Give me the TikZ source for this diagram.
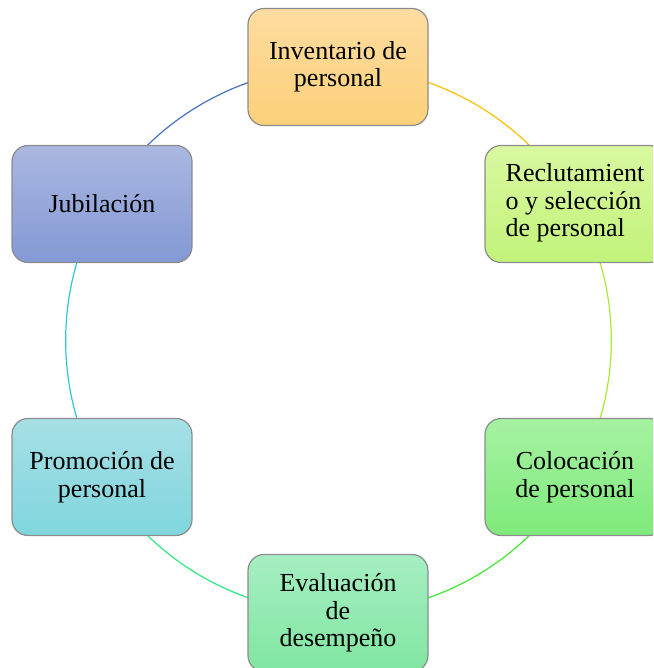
\documentclass[tikz,border=0pt]{standalone}
\usepackage{fontspec}
\setmainfont{Liberation Serif}
\usetikzlibrary{backgrounds}
\definecolor{orT}{HTML}{FEDCA0}
\definecolor{orB}{HTML}{FCD17A}
\definecolor{reT}{HTML}{D9F8A0}
\definecolor{reB}{HTML}{C2F37A}
\definecolor{coT}{HTML}{A6F2A2}
\definecolor{coB}{HTML}{7EEA7A}
\definecolor{evT}{HTML}{A6EEC2}
\definecolor{evB}{HTML}{80E6A0}
\definecolor{prT}{HTML}{A7DFE6}
\definecolor{prB}{HTML}{80D6DD}
\definecolor{juT}{HTML}{A9B7E0}
\definecolor{juB}{HTML}{8499D5}
\definecolor{boxline}{HTML}{8C8C8C}
\definecolor{arcA}{HTML}{FFC000}
\definecolor{arcB}{HTML}{A6EC30}
\definecolor{arcC}{HTML}{40E832}
\definecolor{arcD}{HTML}{30E880}
\definecolor{arcE}{HTML}{30C8D8}
\definecolor{arcF}{HTML}{4472C4}
\begin{document}
\begin{tikzpicture}[x=1pt,y=1pt,
  box/.style={draw=boxline, line width=1.2pt, rounded corners=16pt,
    minimum width=180pt, minimum height=117pt, inner sep=0pt,
    align=center, font=\fontsize{26}{27.5}\selectfont},
  ring/.style={line width=1.2pt, bend left=30, looseness=0.91}]
\useasboundingbox (0,0) rectangle (653,668);
\clip (0,0) rectangle (653,668);
\node[box, top color=orT, bottom color=orB] (inv) at (338,601) {Inventario de\\personal};
\node[box, top color=reT, bottom color=reB] (rec) at (575,464) {\begin{tabular}{@{}l@{}}Reclutamient\\o y selección\\de personal\end{tabular}};
\node[box, top color=coT, bottom color=coB] (col) at (575,191) {Colocación\\de personal};
\node[box, top color=evT, bottom color=evB] (eva) at (338,55) {Evaluación\\de\\desempeño};
\node[box, top color=prT, bottom color=prB] (pro) at (102,191) {Promoción de\\personal};
\node[box, top color=juT, bottom color=juB] (jub) at (102,464) {Jubilación};
\begin{scope}[on background layer]
\draw[ring, arcA] (inv.center) to (rec.center);
\draw[ring, arcB] (rec.center) to (col.center);
\draw[ring, arcC] (col.center) to (eva.center);
\draw[ring, arcD] (eva.center) to (pro.center);
\draw[ring, arcE] (pro.center) to (jub.center);
\draw[ring, arcF] (jub.center) to (inv.center);
\end{scope}
\end{tikzpicture}
\end{document}
